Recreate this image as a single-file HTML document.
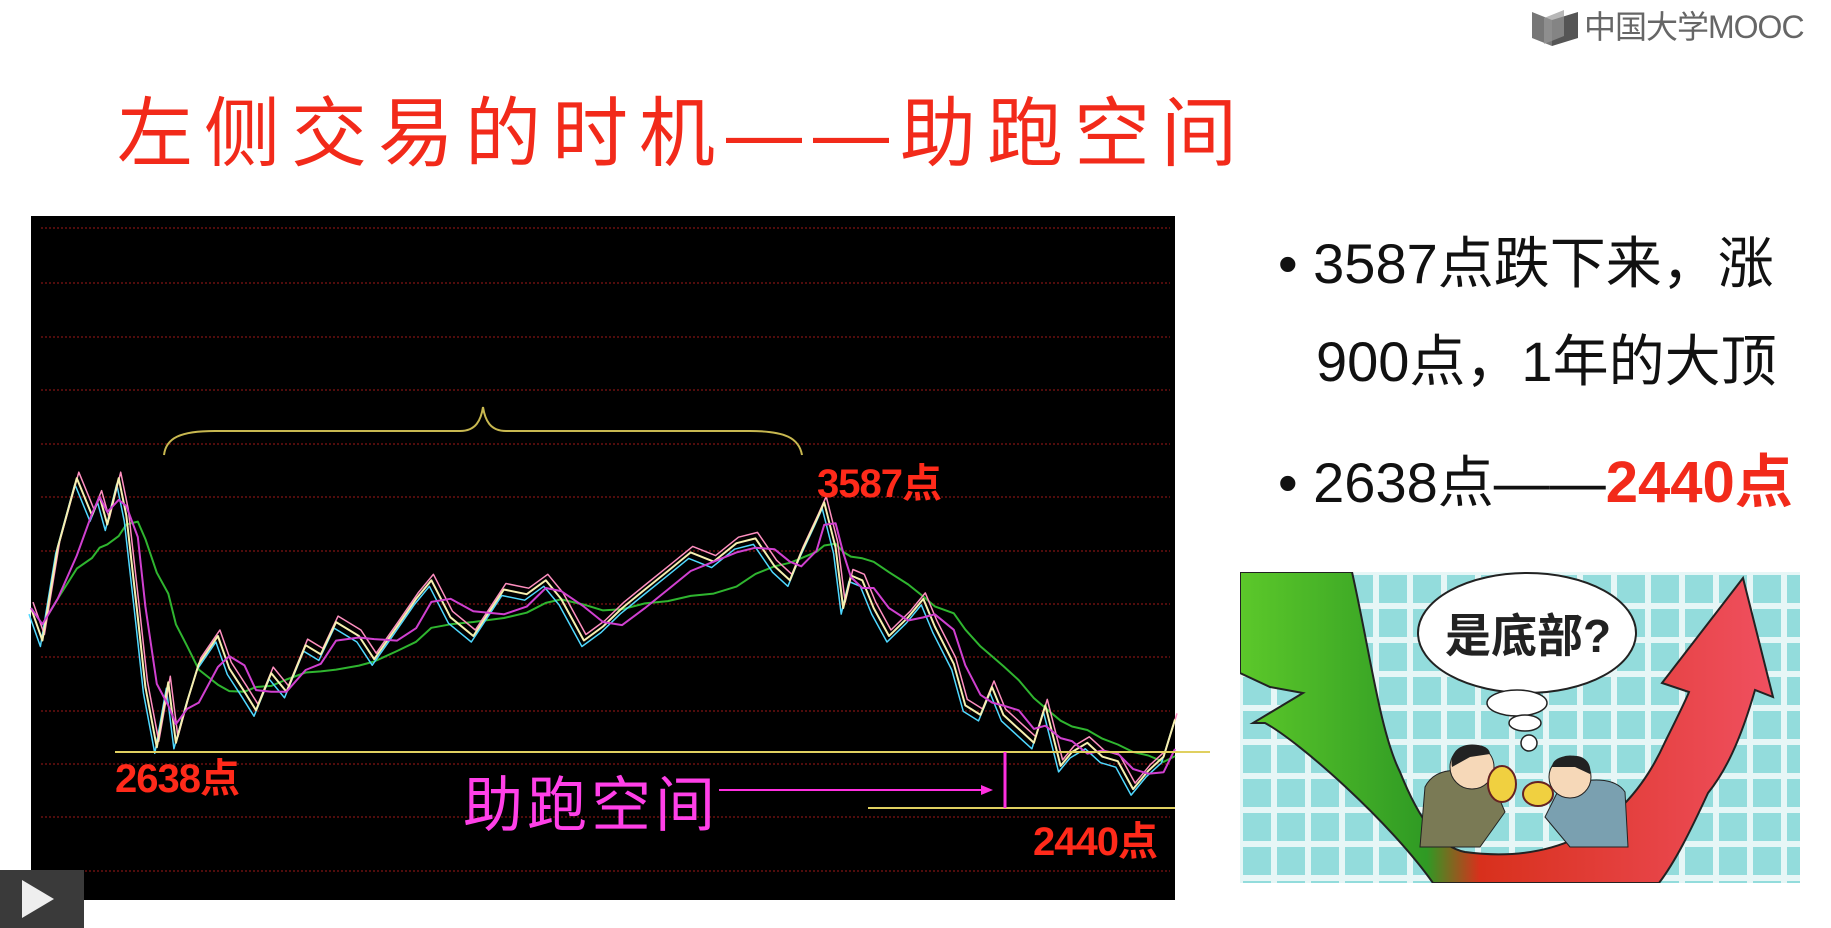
<!DOCTYPE html>
<html><head><meta charset="utf-8">
<style>
html,body{margin:0;padding:0;background:#fff;}
body{width:1831px;height:928px;position:relative;overflow:hidden;font-family:"Liberation Sans","Noto Sans CJK SC",sans-serif;}
.abs{position:absolute;}
#title{left:117px;top:72px;font-size:76px;color:#f22a1a;letter-spacing:11px;white-space:nowrap;font-family:"Liberation Sans","Noto Sans CJK SC",sans-serif;}
.bl{position:absolute;font-size:56px;color:#111;white-space:nowrap;line-height:1;}
</style></head><body>
<div id="title" class="abs">左侧交易的时机——助跑空间</div>

<div class="abs" style="left:1530px;top:6px;width:300px;height:42px;">
<svg width="56" height="42" class="abs" style="left:0;top:0"><polygon points="2,6 22,14 22,40 2,32" fill="#777"/><polygon points="22,14 48,6 48,32 22,40" fill="#555"/><polygon points="14,12 34,4 34,30 14,38" fill="#999" opacity="0.7"/></svg>
<div class="abs" style="left:54px;top:0;font-size:32px;letter-spacing:-1px;color:#666;white-space:nowrap;line-height:42px;">中国大学MOOC</div>
</div>

<svg id="chart" class="abs" style="left:0;top:0" width="1231" height="928"></svg>

<div class="bl" style="left:1278px;top:236px;">•&nbsp;3587点跌下来，涨</div>
<div class="bl" style="left:1316px;top:334px;">900点，1年的大顶</div>
<div class="bl" style="left:1278px;top:454px;">•&nbsp;2638点——<b style="color:#f22a1a;font-size:58px;">2440点</b></div>

<svg class="abs" style="left:1240px;top:572px" width="560" height="311">
<defs>
<pattern id="grid" width="34" height="34" patternUnits="userSpaceOnUse"><rect width="34" height="34" fill="#e6f6f6"/><rect x="3" y="3" width="28" height="28" fill="#93dcdc"/></pattern>
<linearGradient id="gr" x1="0" y1="0" x2="1" y2="0"><stop offset="0" stop-color="#5cc82a"/><stop offset="0.35" stop-color="#2f9a24"/><stop offset="0.45" stop-color="#d8301c"/><stop offset="1" stop-color="#f05060"/></linearGradient>
</defs>
<rect width="560" height="311" fill="url(#grid)"/>
<path d="M0,0 L112,0 C130,80 140,160 160,200 C180,250 200,275 225,280 C300,290 380,270 425,170 C435,150 445,130 449,120 L422,111 L503,6 L533,125 L515,118 C500,170 485,200 468,221 C450,260 435,290 419,311 L193,311 C150,250 60,170 25,151 L13,151 L63,121 L30,115 L0,101 Z" fill="url(#gr)" stroke="#222" stroke-width="2"/>
<ellipse cx="287" cy="61" rx="109" ry="60" fill="#fff" stroke="#222" stroke-width="2"/>
<ellipse cx="277" cy="131" rx="30" ry="13" fill="#fff" stroke="#222" stroke-width="1.5"/>
<ellipse cx="285" cy="151" rx="16" ry="8" fill="#fff" stroke="#222" stroke-width="1.5"/>
<circle cx="289" cy="171" r="8" fill="#fff" stroke="#222" stroke-width="1.5"/>
<text x="288" y="80" font-size="46" font-weight="bold" text-anchor="middle" fill="#222" font-family="Liberation Sans,Noto Sans CJK SC,sans-serif">是底部?</text>
<path d="M180,275 L185,215 C195,195 220,195 250,205 L265,240 L240,275 Z" fill="#7a7a55" stroke="#222"/>
<circle cx="232" cy="195" r="22" fill="#f6d8b8" stroke="#222"/>
<path d="M232,173 C215,172 210,185 212,195 L230,185 L250,182 C250,176 242,172 232,173Z" fill="#222"/>
<path d="M388,275 L385,220 C375,205 350,205 320,215 L305,245 L330,275 Z" fill="#7aa0b0" stroke="#222"/>
<circle cx="330" cy="205" r="21" fill="#f6d8b8" stroke="#222"/>
<path d="M330,184 C345,182 352,192 350,202 L335,195 L312,195 C312,188 320,184 330,184Z" fill="#222"/>
<ellipse cx="262" cy="212" rx="14" ry="18" fill="#f0d040" stroke="#622" stroke-width="2"/>
<ellipse cx="298" cy="222" rx="15" ry="12" fill="#f0d040" stroke="#622" stroke-width="2"/>
</svg>

<div class="abs" style="left:0;top:870px;width:84px;height:58px;background:#3a3a3a;">
<div style="position:absolute;left:22px;top:10px;width:0;height:0;border-left:32px solid #eee;border-top:19px solid transparent;border-bottom:19px solid transparent;"></div></div>

<script>
const days=[0,3,7,12,16,18,20,23,25,28,30,33,36,38,41,44,49,52,56,59,63,67,72,76,80,86,90,96,101,105,110,116,124,130,135,139,145,150,155,161,167,173,179,185,190,195,199,202,206,208,211,213,215,218,221,225,230,234,237,242,245,249,252,255,259,263,266,270,273,277,281,285,289,293,297,300];
const closes=[3185,3062,3415,3679,3538,3609,3503,3679,3538,3150,2885,2656,2903,2673,2832,2973,3079,2956,2867,2797,2938,2867,3044,3009,3132,3079,2991,3115,3220,3291,3150,3079,3256,3238,3291,3220,3062,3115,3185,3256,3326,3397,3362,3432,3450,3344,3291,3397,3521,3587,3415,3185,3309,3291,3185,3079,3150,3220,3115,2973,2815,2779,2885,2779,2726,2673,2815,2585,2638,2673,2620,2603,2497,2567,2620,2762];
const levels=[2638,2440];
const labels=["2638点","3587点","2440点"];
const gridYs=[228,283,337,390,444,497,551,604,657,711,764,817,871];

const NS="http://www.w3.org/2000/svg";
const svg=document.getElementById('chart');
const X0=31,X1=1175,Y0=216,Y1=900;
function xs(d){return X0+(d/300)*(X1-X0);}
function ys(v){return 752-(v-2638)*0.263;}
function mk(tag,attrs){const e=document.createElementNS(NS,tag);for(const k in attrs)e.setAttribute(k,attrs[k]);svg.appendChild(e);return e;}
let r=mk('rect',{x:X0,y:Y0,width:X1-X0,height:Y1-Y0,fill:'#000'});


gridYs.forEach(g=>{const l=mk('line',{x1:X0+10,x2:X1-5,y1:g,y2:g,stroke:'#6a1010','stroke-width':1.5,'stroke-dasharray':'2,2'});

});
function poly(vals,color,w,dx,dy,name){const p=vals.map((v,i)=>(xs(days[i])+dx).toFixed(1)+','+(ys(v)+dy).toFixed(1)).join(' ');
const e=mk('polyline',{points:p,fill:'none',stroke:color,'stroke-width':w,'stroke-linejoin':'round'});

}
function ma(n){return closes.map((v,i)=>{let s=0,c=0;for(let j=Math.max(0,i-n+1);j<=i;j++){s+=closes[j];c++;}return s/c;});}
poly(ma(8),'#2fb52f',2,0,0,'ma-long');
poly(closes,'#4fd8ff',1.5,-2,6,'price-line-low');
poly(closes,'#ff8fc0',1.5,2,-6,'price-line-high');
poly(closes,'#f6f0b0',2,0,0,'price-line');
poly(ma(3),'#d040d0',2,0,0,'ma-short');
let l1=mk('line',{x1:115,x2:1210,y1:ys(levels[0]),y2:ys(levels[0]),stroke:'#e0d060','stroke-width':2});


const y2440=752+(2638-levels[1])*0.283;
let l2=mk('line',{x1:868,x2:1175,y1:y2440,y2:y2440,stroke:'#e0d060','stroke-width':2});


let vb=mk('line',{x1:1005,x2:1005,y1:ys(levels[0]),y2:y2440,stroke:'#ff30e0','stroke-width':3});


let ar=mk('line',{x1:719,x2:985,y1:790,y2:790,stroke:'#ff30e0','stroke-width':2});


mk('polygon',{points:'993,790 981,785 981,795',fill:'#ff30e0'});
let br=mk('path',{d:'M164,455 C166,438 180,431 215,431 L460,431 C476,431 481,420 483,407 C485,420 490,431 506,431 L750,431 C785,431 799,438 802,455',fill:'none',stroke:'#c8b850','stroke-width':2});


function txt(s,x,y,size,color,name,weight,ls){const t=mk('text',{x:x,y:y,'font-size':size,fill:color,'font-weight':weight||'bold','font-family':'Liberation Sans Narrow,Liberation Sans,Noto Sans CJK SC,sans-serif','letter-spacing':ls||0});t.textContent=s;

}
txt(labels[0],115,792,40,'#ff2a1a','label-2638','bold',-1);
txt(labels[1],817,497,40,'#ff2a1a','label-3587','bold',-1);
txt(labels[2],1033,855,40,'#ff2a1a','label-2440','bold',-1);
txt('助跑空间',463,826,60,'#ff40e8','runway-label','normal',4);
</script>
</body></html>
